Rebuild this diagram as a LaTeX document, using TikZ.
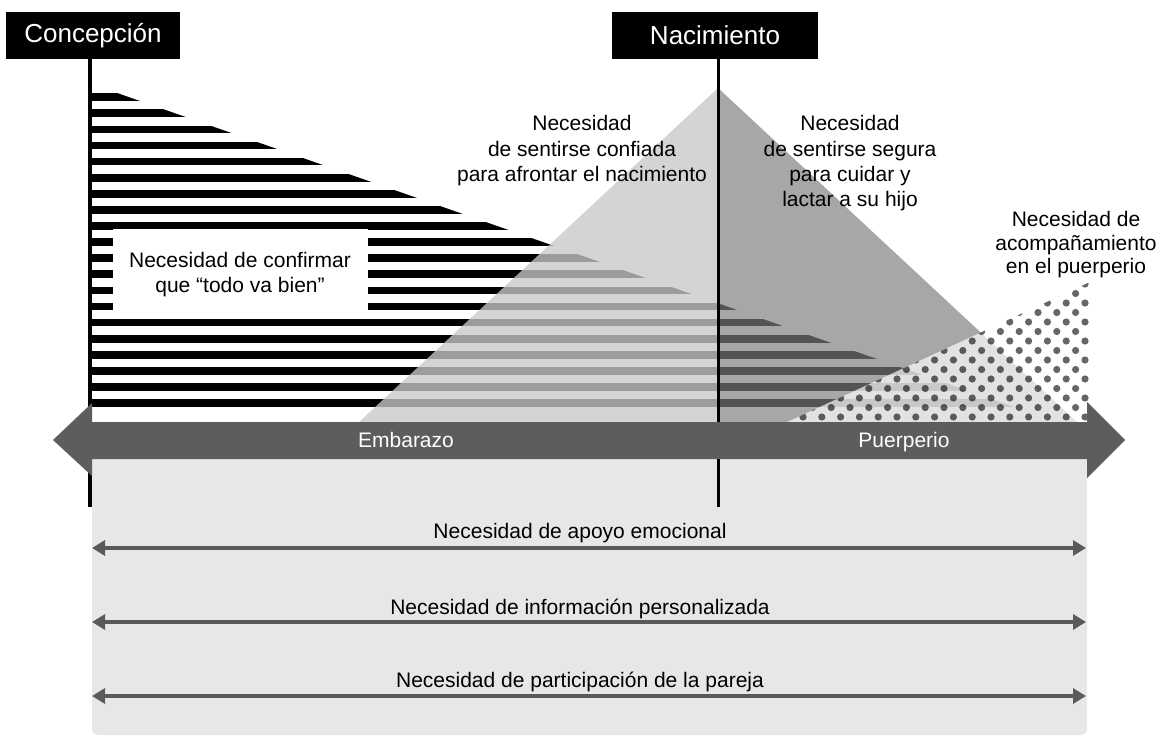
\documentclass[tikz,border=0pt]{standalone}
\usepackage{fontspec}
\setmainfont{Liberation Sans}
\usetikzlibrary{arrows.meta}
\definecolor{bandgray}{RGB}{94,92,93}
\definecolor{boxgray}{RGB}{231,231,231}
\definecolor{lightT}{RGB}{200,200,200}
\definecolor{darkT}{RGB}{125,125,125}
\definecolor{arrowgray}{RGB}{90,90,90}
\tikzset{
  labelbox/.style={fill=black, text=white, font=\fontsize{26}{30}\selectfont,
    minimum width=174pt, minimum height=47pt, inner sep=0pt},
  txt/.style={font=\fontsize{21}{25}\selectfont, inner sep=0pt, anchor=base},
  bandtxt/.style={txt, text=white},
  timeline/.style={line width=3.5pt, black},
  needarrow/.style={line width=4pt, arrowgray,
    {Triangle[length=13pt,width=15pt]}-{Triangle[length=13pt,width=15pt]}},
}
\begin{document}
\begin{tikzpicture}[x=1pt,y=-1pt]
\useasboundingbox (0,0) rectangle (1161,736);
% striped triangle
\begin{scope}
  \clip (90,83.5) -- (1060,423) -- (90,423) -- cycle;
  \foreach \k in {0,...,19}
    \fill[black] (90,{93.3+16.1*\k}) rectangle (1100,{93.3+16.1*\k+7.7});
\end{scope}
\fill[white] (113,229) rectangle (368,313);
% gray triangles
\fill[lightT, opacity=0.78] (358,423) -- (718,88) -- (718,423) -- cycle;
\fill[darkT, opacity=0.68] (718,88) -- (1078,423) -- (718,423) -- cycle;
% dotted triangle
\begin{scope}
  \clip (785,423) -- (1090,282) -- (1090,423) -- cycle;
  \fill[white, opacity=0.68] (780,275) rectangle (1095,425);
  \foreach \j in {0,...,15}
    \foreach \i in {0,...,16}
      \fill[black, opacity=0.6] ({803+18.8*\i+mod(\j,2)*9.4-18.8}, {417-9.5*\j}) circle (3.6pt);
\end{scope}
% light box
\fill[boxgray, rounded corners=6pt] (92,440) rectangle (1087,735);
% labels and timelines
\node[labelbox] (conc) at (93,35.5) {Concepción};
\node[labelbox, minimum width=206pt] (nac) at (715,35.5) {Nacimiento};
\coordinate (concEnd) at (90,507);
\coordinate (nacEnd) at (718.5,507);
\draw[timeline] (conc.south -| concEnd) -- (concEnd);
\draw[timeline, line width=3pt] (nac.south -| nacEnd) -- (nacEnd);
% band arrow
\fill[bandgray] (53,440) -- (92,403) -- (92,422) -- (1087,422) -- (1087,402)
  -- (1125,440) -- (1087,478) -- (1087,459) -- (92,459) -- (92,476) -- cycle;
\node[bandtxt] (emb) at (406,447) {Embarazo};
\node[bandtxt] (pue) at (904,447) {Puerperio};
% need arrows
\coordinate (a1l) at (92,548); \coordinate (a1r) at (1086,548);
\coordinate (a2l) at (92,622); \coordinate (a2r) at (1086,622);
\coordinate (a3l) at (92,696); \coordinate (a3r) at (1086,696);
\draw[needarrow] (a1l) -- (a1r);
\draw[needarrow] (a2l) -- (a2r);
\draw[needarrow] (a3l) -- (a3r);
\node[txt] (n1) at (580,538) {Necesidad de apoyo emocional};
\node[txt] (n2) at (580,614) {Necesidad de información personalizada};
\node[txt] (n3) at (580,687) {Necesidad de participación de la pareja};
% texts
\node[txt] (c1) at (240,267) {Necesidad de confirmar};
\node[txt] (c2) at (240,292) {que “todo va bien”};
\node[txt] (l1) at (582,130) {Necesidad};
\node[txt] (l2) at (582,156) {de sentirse confiada};
\node[txt] (l3) at (582,181) {para afrontar el nacimiento};
\node[txt] (r1) at (850,130) {Necesidad};
\node[txt] (r2) at (850,156) {de sentirse segura};
\node[txt] (r3) at (850,181) {para cuidar y};
\node[txt] (r4) at (850,206) {lactar a su hijo};
\node[txt] (p1) at (1076,226) {Necesidad de};
\node[txt] (p2) at (1076,250) {acompañamiento};
\node[txt] (p3) at (1076,273) {en el puerperio};
\end{tikzpicture}
\end{document}
